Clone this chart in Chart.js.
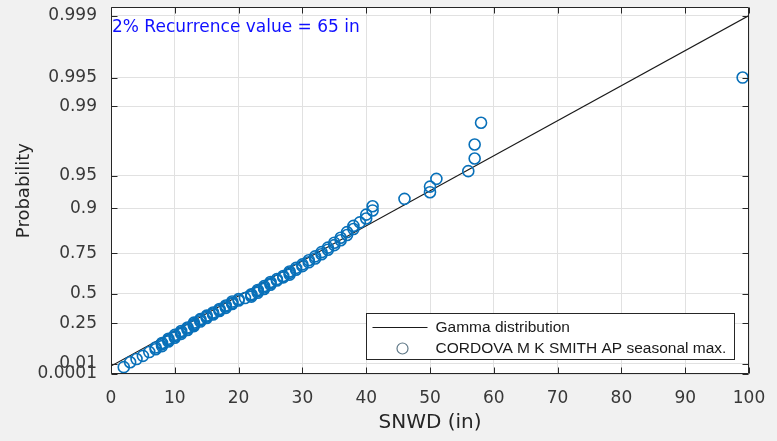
<!DOCTYPE html>
<html>
<head>
<meta charset="utf-8">
<script src="https://cdn.jsdelivr.net/npm/chart.js@4.4.0/dist/chart.umd.min.js"></script>
<style>
  html, body { margin: 0; padding: 0; background: #f0f0f0; }
  #c { display: block; }
</style>
</head>
<body>
<canvas id="c" width="777" height="441"></canvas>
<script>
// ---- data ----
// seasonal maximum snow depth (in), sorted
const snwd = [
  2, 3, 4, 5, 6, 7, 7, 8, 8, 8,
  9, 9, 9, 10, 10, 10, 11, 11, 11, 12,
  12, 12, 13, 13, 13, 13, 14, 14, 14, 15,
  15, 15, 16, 16, 16, 17, 17, 17, 18, 18,
  18, 19, 19, 19, 20, 20, 21, 22, 22, 22,
  23, 23, 23, 24, 24, 24, 25, 25, 25, 26,
  26, 27, 27, 28, 28, 28, 29, 29, 30, 30,
  31, 31, 32, 32, 33, 33, 34, 34, 35, 35,
  36, 36, 37, 37, 38, 38, 39, 40, 40, 41,
  41, 46, 50, 50, 51, 56, 57, 57, 58, 99
];
// plotting position of each point on the probability axis (axis units, gamma-quantile scale in inches)
const plotPos = [
  -0.3, 1.1, 2.0, 2.9, 4.0, 4.8, 5.3, 5.7, 6.2, 6.6,
  7.0, 7.4, 7.8, 8.1, 8.5, 8.9, 9.2, 9.6, 10.0, 10.3,
  10.7, 11.0, 11.4, 11.7, 12.0, 12.4, 12.7, 13.1, 13.4, 13.7,
  14.1, 14.4, 14.7, 15.0, 15.3, 15.7, 16.0, 16.3, 16.6, 17.0,
  17.3, 17.7, 18.0, 18.4, 18.7, 19.1, 19.4, 19.8, 20.2, 20.5,
  20.9, 21.3, 21.7, 22.0, 22.4, 22.8, 23.2, 23.6, 24.0, 24.4,
  24.8, 25.3, 25.7, 26.1, 26.6, 27.0, 27.5, 28.0, 28.5, 29.0,
  29.6, 30.2, 30.7, 31.3, 31.9, 32.5, 33.2, 33.8, 34.5, 35.2,
  35.9, 36.6, 37.4, 38.2, 39.1, 40.0, 41.0, 42.1, 43.2, 44.4,
  45.6, 47.7, 49.6, 51.2, 53.4, 55.6, 59.2, 63.2, 69.4, 82.3
];
// fitted gamma distribution (straight line on this paper)
const gammaX = [0, 100];
const gammaY = [0, 100];
// probability axis ticks: labels and their positions on the axis
const probTickLabels = ['0.0001', '0.01', '0.25', '0.5', '0.75', '0.9', '0.95', '0.99', '0.995', '0.999'];
const probTickPos = [-2.26, 0.6, 12.2, 20.7, 32.2, 45.0, 54.3, 74.1, 82.3, 100];
const xTicks = [0, 10, 20, 30, 40, 50, 60, 70, 80, 90, 100];
const yRange = [-2.26, 102.4];
const legendLabels = ['Gamma distribution', 'CORDOVA M K SMITH AP seasonal max.'];
const annotationText = '2% Recurrence value = 65 in';

// ---- styling ----
const AXIS = '#262626';
const GRID = '#e1e1e1';
const PT = 'rgb(8,112,185)';

Chart.defaults.font.family = '"DejaVu Sans", sans-serif';

const bgPlugin = {
  id: 'bg',
  beforeDraw(chart) {
    const {ctx, chartArea: a} = chart;
    ctx.save();
    ctx.fillStyle = '#f1f1f1';
    ctx.fillRect(0, 0, chart.width, chart.height);
    ctx.fillStyle = '#ffffff';
    ctx.fillRect(a.left, a.top, a.right - a.left, a.bottom - a.top);
    ctx.restore();
  }
};

const axesPlugin = {
  id: 'matlabAxes',
  afterDatasetsDraw(chart) {
    const {ctx, chartArea: a, scales: {x, y}} = chart;
    ctx.save();
    ctx.strokeStyle = AXIS;
    ctx.lineWidth = 1;
    const L = Math.round(a.left) + 0.5, R = Math.round(a.right) - 0.5;
    const T = Math.round(a.top) + 0.5, B = Math.round(a.bottom) - 0.5;
    ctx.beginPath();
    ctx.rect(L, T, R - L, B - T);
    const tl = 6;
    xTicks.forEach(v => {
      const px = Math.round(x.getPixelForValue(v)) + 0.5;
      ctx.moveTo(px, B); ctx.lineTo(px, B - tl);
      ctx.moveTo(px, T); ctx.lineTo(px, T + tl);
    });
    probTickPos.forEach(v => {
      const py = Math.round(y.getPixelForValue(v)) + 0.5;
      ctx.moveTo(L, py); ctx.lineTo(L + tl, py);
      ctx.moveTo(R, py); ctx.lineTo(R - tl, py);
    });
    ctx.stroke();

    // annotation
    ctx.fillStyle = '#1010ff';
    ctx.font = '17px "DejaVu Sans"';
    ctx.textAlign = 'left';
    ctx.textBaseline = 'middle';
    ctx.fillText(annotationText, a.left + 1, a.top + 20);

    // legend box
    const bw = 368, bh = 46;
    const bx = Math.round(a.right - 15 - bw) + 0.5;
    const by = Math.round(a.bottom - 15 - bh) + 0.5;
    ctx.fillStyle = '#ffffff';
    ctx.fillRect(bx, by, bw, bh);
    ctx.strokeStyle = AXIS;
    ctx.strokeRect(bx, by, bw, bh);
    // line sample
    ctx.strokeStyle = '#1a1a1a';
    ctx.lineWidth = 1.2;
    ctx.beginPath();
    ctx.moveTo(bx + 6, by + 14); ctx.lineTo(bx + 61, by + 14);
    ctx.stroke();
    // marker sample
    ctx.strokeStyle = 'rgb(95,120,135)';
    ctx.beginPath();
    ctx.arc(bx + 36, by + 35, 5.5, 0, Math.PI * 2);
    ctx.stroke();
    ctx.fillStyle = '#1a1a1a';
    ctx.font = '15.5px "Liberation Sans"';
    ctx.fillText(legendLabels[0], bx + 69, by + 14);
    ctx.fillText(legendLabels[1], bx + 69, by + 35);
    ctx.restore();
  }
};

new Chart(document.getElementById('c'), {
  type: 'scatter',
  data: {
    datasets: [
      {
        label: legendLabels[0],
        data: gammaX.map((v, i) => ({x: v, y: gammaY[i]})),
        showLine: true,
        borderColor: '#1a1a1a',
        borderWidth: 1.2,
        pointRadius: 0,
        fill: false,
        order: 2
      },
      {
        label: legendLabels[1],
        data: snwd.map((v, i) => ({x: v, y: plotPos[i]})),
        showLine: false,
        pointStyle: 'circle',
        pointRadius: 5.5,
        pointBorderWidth: 1.6,
        borderColor: PT,
        backgroundColor: 'rgba(0,0,0,0)',
        order: 1
      }
    ]
  },
  options: {
    responsive: false,
    animation: false,
    events: [],
    layout: { padding: { left: 0, top: 4, right: 28, bottom: 0 } },
    plugins: { legend: { display: false }, tooltip: { enabled: false } },
    scales: {
      x: {
        type: 'linear',
        min: 0, max: 100,
        afterBuildTicks: s => { s.ticks = xTicks.map(v => ({value: v})); },
        afterFit: s => { s.height = 67; s.paddingLeft = 0; s.paddingRight = 0; },
        grid: { color: GRID, drawTicks: false, lineWidth: 1 },
        border: { display: false },
        ticks: { autoSkip: false, maxRotation: 0, padding: 14, color: '#383838', font: { size: 17 } },
        title: { display: true, text: 'SNWD (in)', color: '#262626', font: { size: 20 }, padding: { top: 0, bottom: 6 } }
      },
      y: {
        type: 'linear',
        min: yRange[0], max: yRange[1],
        afterBuildTicks: s => { s.ticks = probTickPos.map(v => ({value: v})); },
        afterFit: s => { s.width = 111; s.paddingTop = 0; s.paddingBottom = 0; },
        grid: { color: GRID, drawTicks: false, lineWidth: 1 },
        border: { display: false },
        ticks: {
          autoSkip: false, padding: 14, color: '#383838', font: { size: 17 },
          callback: (v, i) => probTickLabels[i]
        },
        title: { display: true, text: 'Probability', color: '#262626', font: { size: 18 }, padding: { top: 14, bottom: 0 } }
      }
    }
  },
  plugins: [bgPlugin, axesPlugin]
});
</script>
</body>
</html>
